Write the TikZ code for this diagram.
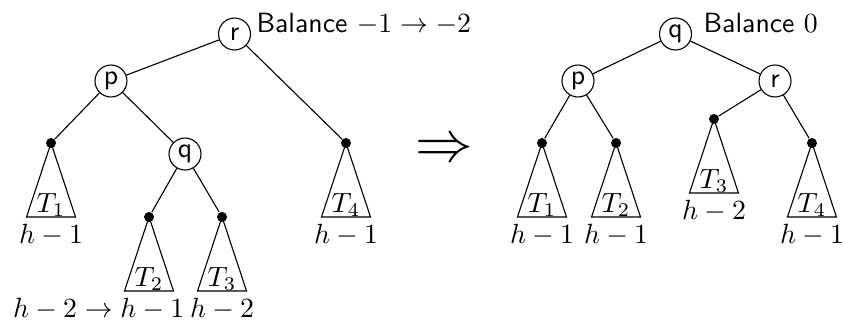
\documentclass[tikz,border=0pt]{standalone}
\usepackage{amsmath,amssymb}
\usepackage{tikz}
\usetikzlibrary{calc,positioning}

\begin{document}
\begin{tikzpicture}[
  knoten/.style={draw, circle, inner sep=0pt, minimum size=11.5pt, font=\sffamily},
  punkt/.style={circle, fill, inner sep=0pt, minimum size=3.6pt},
  hoehe/.style={anchor=north, inner sep=2.5pt},
  balance/.style={anchor=base west, inner sep=0pt, font=\sffamily}
]
\useasboundingbox (0,0) rectangle (10.67,-4.058);

% before the rotation
\node[knoten] (r1) at (2.965,-0.43) {r};
\node[knoten] (p1) at (1.403,-1.024) {p};
\node[knoten] (q1) at (2.339,-1.947) {q};
\node[punkt] (t11) at (0.645,-1.808) {};
\node[punkt] (t12) at (1.884,-2.743) {};
\node[punkt] (t13) at (2.807,-2.743) {};
\node[punkt] (t14) at (4.374,-1.808) {};
\draw (r1) -- (p1) (r1) -- (t14) (p1) -- (t11) (p1) -- (q1) (q1) -- (t12) (q1) -- (t13);
\node[balance] (bal1) at (3.236,-0.405) {Balance $-1\rightarrow-2$};

% implies
\node (impl) at (5.613,-1.909) {\huge$\Rightarrow$};

% after the rotation
\node[knoten] (q2) at (8.54,-0.43) {q};
\node[knoten] (p2) at (7.307,-1.024) {p};
\node[knoten] (r2) at (9.798,-1.024) {r};
\node[punkt] (t21) at (6.852,-1.808) {};
\node[punkt] (t22) at (7.788,-1.808) {};
\node[punkt] (t23) at (9.026,-1.504) {};
\node[punkt] (t24) at (10.265,-1.808) {};
\draw (q2) -- (p2) (q2) -- (r2) (p2) -- (t21) (p2) -- (t22) (r2) -- (t23) (r2) -- (t24);
\node[balance] (bal2) at (8.888,-0.405) {Balance $0$};

% subtrees
\foreach \t/\n in {t11/T_1, t12/T_2, t13/T_3, t14/T_4, t21/T_1, t22/T_2, t23/T_3, t24/T_4} {
  \draw (\t.center) -- ++(-0.31,-0.936) coordinate (b\t) -- ++(0.62,0) -- cycle;
  \node[anchor=south, inner sep=0pt] (n\t) at ($(b\t)+(0.31,0)$) {$\n$};
}
\foreach \t/\h in {t11/h-1, t13/h-2, t14/h-1, t21/h-1, t22/h-1, t23/h-2, t24/h-1}
  \node[hoehe] (h\t) at ($(b\t)+(0.31,0)$) {$\h$};
\node[hoehe, anchor=north east] (ht12) at ($(bt12)+(0.85,0)$) {$h-2\rightarrow h-1$};
\end{tikzpicture}
\end{document}
